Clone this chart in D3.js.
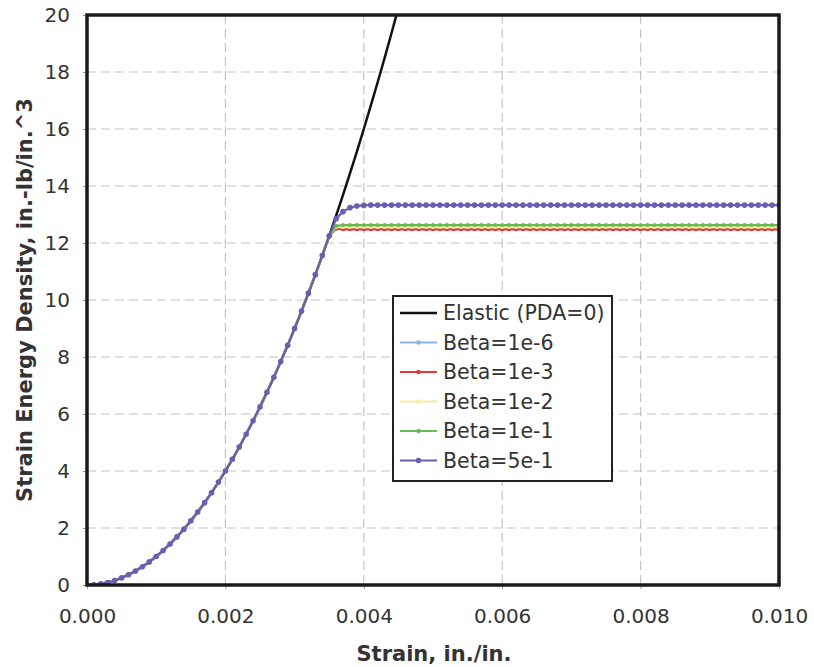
<!DOCTYPE html>
<html>
<head>
<meta charset="utf-8">
<script src="https://cdn.jsdelivr.net/npm/d3@7"></script>
<style>
    body { margin: 0; background: #fff; }
    svg text { font-family: "DejaVu Sans", Verdana, sans-serif; }
</style>
</head>
<body>
<div id="chart"></div>
<script>
// strain samples (in./in.), one point every 0.0001
var strain = d3.range(0, 101).map(function(i) { return i / 10000; });

// shared rising branch, strain 0 .. 0.0035
var rise = [0, 0.01, 0.04, 0.09, 0.16, 0.25, 0.36, 0.49, 0.64, 0.81,
    1.0, 1.21, 1.44, 1.69, 1.96, 2.25, 2.56, 2.89, 3.24, 3.61,
    4.0, 4.41, 4.84, 5.29, 5.76, 6.25, 6.76, 7.29, 7.84, 8.41,
    9.0, 9.61, 10.24, 10.89, 11.56, 12.25];

// elastic line keeps rising past the top of the plot
var elasticTail = [12.96, 13.69, 14.44, 15.21, 16.0, 16.81, 17.64, 18.49, 19.36, 20.25];

var seriesNames = ["Beta=1e-6", "Beta=1e-3", "Beta=1e-2", "Beta=1e-1", "Beta=5e-1"];
var seriesColors = ["#86b4e2", "#e2383a", "#f3eea0", "#66bb55", "#6a5eb0"];
// points right after the knee (0.0036 ...)
var kneeValues = [
    [12.5],
    [12.5],
    [12.56],
    [12.6, 12.63],
    [12.85, 13.1, 13.24, 13.3, 13.32]
];
var plateauValues = [12.5, 12.48, 12.56, 12.63, 13.33];

var xTicks = [0, 0.002, 0.004, 0.006, 0.008, 0.010];
var yTicks = [0, 2, 4, 6, 8, 10, 12, 14, 16, 18, 20];

var margin = { top: 15, right: 35, bottom: 82, left: 87 },
    width = 814 - margin.left - margin.right,
    height = 667 - margin.top - margin.bottom;

var xScale = d3.scaleLinear().domain([0, 0.01]).range([0, width]);
var yScale = d3.scaleLinear().domain([0, 20]).range([height, 0]);

var svg = d3.select("#chart").append("svg")
    .attr("width", 814)
    .attr("height", 667);

var g = svg.append("g")
    .attr("transform", "translate(" + margin.left + "," + margin.top + ")");

g.append("defs").append("clipPath").attr("id", "plot-clip")
    .append("rect").attr("width", width).attr("height", height);

// dashed grid
g.append("g").selectAll("line.vgrid")
    .data(xTicks.slice(1, -1))
    .enter().append("line")
    .attr("x1", function(d) { return xScale(d); })
    .attr("x2", function(d) { return xScale(d); })
    .attr("y1", 0).attr("y2", height)
    .attr("stroke", "#c4c4c4").attr("stroke-width", 1.2)
    .attr("stroke-dasharray", "9,5");

g.append("g").selectAll("line.hgrid")
    .data(yTicks.slice(1, -1))
    .enter().append("line")
    .attr("x1", 0).attr("x2", width)
    .attr("y1", function(d) { return yScale(d); })
    .attr("y2", function(d) { return yScale(d); })
    .attr("stroke", "#c4c4c4").attr("stroke-width", 1.2)
    .attr("stroke-dasharray", "9,5");

// axes
var xAxis = d3.axisBottom(xScale).tickValues(xTicks).tickSize(4).tickPadding(20)
    .tickFormat(d3.format(".3f"));
var yAxis = d3.axisLeft(yScale).tickValues(yTicks).tickSize(4).tickPadding(13);

var gx = g.append("g").attr("transform", "translate(0," + height + ")").call(xAxis);
var gy = g.append("g").call(yAxis);
[gx, gy].forEach(function(ax) {
    ax.select(".domain").remove();
    ax.selectAll(".tick line").attr("stroke", "#999");
    ax.selectAll(".tick text").attr("fill", "#333").style("font-size", "20px");
});

// data lines
var line = d3.line()
    .x(function(d) { return xScale(d.x); })
    .y(function(d) { return yScale(d.y); });

var plot = g.append("g").attr("clip-path", "url(#plot-clip)");

var elastic = rise.concat(elasticTail).map(function(v, i) {
    return { x: strain[i], y: v };
});
plot.append("path")
    .datum(elastic)
    .attr("fill", "none")
    .attr("stroke", "#111")
    .attr("stroke-width", 2.5)
    .attr("d", line);

var betaData = seriesNames.map(function(name, s) {
    var vals = rise.concat(kneeValues[s]);
    while (vals.length < strain.length) vals.push(plateauValues[s]);
    return vals.map(function(v, i) { return { x: strain[i], y: v }; });
});

betaData.forEach(function(pts, s) {
    var sg = plot.append("g");
    sg.append("path")
        .datum(pts)
        .attr("fill", "none")
        .attr("stroke", seriesColors[s])
        .attr("stroke-width", 2.2)
        .attr("d", line);
    sg.selectAll("circle")
        .data(pts)
        .enter().append("circle")
        .attr("cx", function(d) { return xScale(d.x); })
        .attr("cy", function(d) { return yScale(d.y); })
        .attr("r", s === 4 ? 2.8 : 2)
        .attr("fill", seriesColors[s]);
});

// frame
g.append("rect")
    .attr("width", width).attr("height", height)
    .attr("fill", "none")
    .attr("stroke", "#1a1a1a")
    .attr("stroke-width", 3.5);

// axis titles
svg.append("text")
    .attr("x", 434)
    .attr("y", 661)
    .attr("text-anchor", "middle")
    .style("font-size", "21px")
    .style("font-weight", "bold")
    .attr("fill", "#333")
    .text("Strain, in./in.");

svg.append("text")
    .attr("transform", "translate(32," + (margin.top + height / 2) + ") rotate(-90)")
    .attr("text-anchor", "middle")
    .style("font-size", "21px")
    .style("font-weight", "bold")
    .attr("fill", "#333")
    .text("Strain Energy Density, in.-lb/in.^3");

// legend
var legendNames = ["Elastic (PDA=0)"].concat(seriesNames);
var legendColors = ["#111"].concat(seriesColors);

var legend = svg.append("g").attr("transform", "translate(393,296)");
legend.append("rect")
    .attr("width", 219).attr("height", 185)
    .attr("fill", "#fff")
    .attr("stroke", "#222")
    .attr("stroke-width", 2);

var rows = legend.selectAll("g.row")
    .data(legendNames)
    .enter().append("g")
    .attr("transform", function(d, i) { return "translate(0," + (17 + i * 29.5) + ")"; });

rows.append("line")
    .attr("x1", 7).attr("x2", 44)
    .attr("stroke", function(d, i) { return legendColors[i]; })
    .attr("stroke-width", function(d, i) { return i === 0 ? 2.5 : 2.2; });

rows.filter(function(d, i) { return i > 0; })
    .append("circle")
    .attr("cx", 25.5).attr("r", function(d, i) { return i === 4 ? 2.8 : 2.2; })
    .attr("fill", function(d, i) { return seriesColors[i]; });

rows.append("text")
    .attr("x", 50)
    .attr("dy", "0.35em")
    .style("font-size", "20.5px")
    .attr("fill", "#333")
    .text(function(d) { return d; });
</script>
</body>
</html>
